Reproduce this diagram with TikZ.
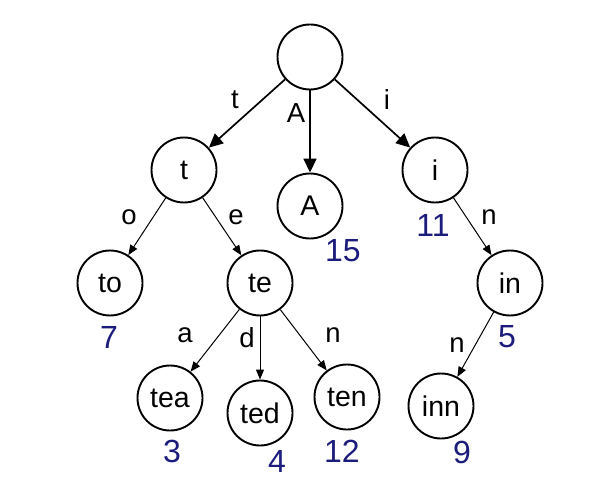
\documentclass[tikz,border=0pt]{standalone}
\usepackage{fontspec}
\setmainfont{Liberation Sans}
\usetikzlibrary{arrows.meta}
\definecolor{numblue}{RGB}{28,28,125}
\tikzset{
  nd/.style   = {draw, circle, line width=1.9pt, minimum size=65pt,
                 inner sep=0pt, font=\fontsize{28.5}{28.5}\selectfont},
  num/.style  = {text=numblue, inner sep=0pt,
                 font=\fontsize{32}{32}\selectfont},
  lbl/.style  = {inner sep=0pt, font=\fontsize{27.5}{27.5}\selectfont},
  flow/.style = {-{Triangle[length=14pt,width=13pt]}, line width=1.7pt},
  thin flow/.style = {-{Triangle[length=10pt,width=8pt]}, line width=1pt},
}

\begin{document}
\begin{tikzpicture}[x=1pt,y=-1pt]
    \useasboundingbox (0,0) rectangle (605,497);

    \node[nd] (root) at (310,57)  {};
    \node[nd] (t)    at (184,170) {t};
    \node[nd] (A)    at (310,206) {A};
    \node[nd] (i)    at (435,170) {i};
    \node[nd] (to)   at (110,283) {to};
    \node[nd] (te)   at (260,283) {te};
    \node[nd] (in)   at (510,283) {in};
    \node[nd] (tea)  at (170,398) {tea};
    \node[nd] (ted)  at (260,413) {ted};
    \node[nd] (ten)  at (347,397) {ten};
    \node[nd] (inn)  at (441,406) {inn};

    % values kept at the word nodes
    \node[num] (nA)   at (343,251) {15};
    \node[num] (ni)   at (433,225) {11};
    \node[num] (nto)  at (109,337) {7};
    \node[num] (nin)  at (507,337) {5};
    \node[num] (ntea) at (172,451) {3};
    \node[num] (nted) at (277,461) {4};
    \node[num] (nten) at (342,451) {12};
    \node[num] (ninn) at (462,452) {9};

    \draw[flow] (root) -- (t);
    \draw[flow] (root.south) -- (A.north);
    \draw[flow] (root) -- (i);
    \node[lbl] (lt) at (235,100) {t};
    \node[lbl] (lA) at (296,113) {A};
    \node[lbl] (li) at (387,100) {i};

    \draw[thin flow] (t) -- (to);
    \draw[thin flow] (t) -- (te);
    \draw[thin flow] (i) -- (in);
    \node[lbl] (lo)  at (129,217) {o};
    \node[lbl] (le)  at (236,217) {e};
    \node[lbl] (lin) at (489,217) {n};

    \draw[thin flow] (te) -- (tea);
    \draw[thin flow] (te.south) -- (ted.north);
    \draw[thin flow] (te) -- (ten);
    \draw[thin flow] (in) -- (inn);
    \node[lbl] (la)   at (185,335) {a};
    \node[lbl] (ld)   at (247,338) {d};
    \node[lbl] (lten) at (333,335) {n};
    \node[lbl] (linn) at (457,345) {n};
\end{tikzpicture}
\end{document}
